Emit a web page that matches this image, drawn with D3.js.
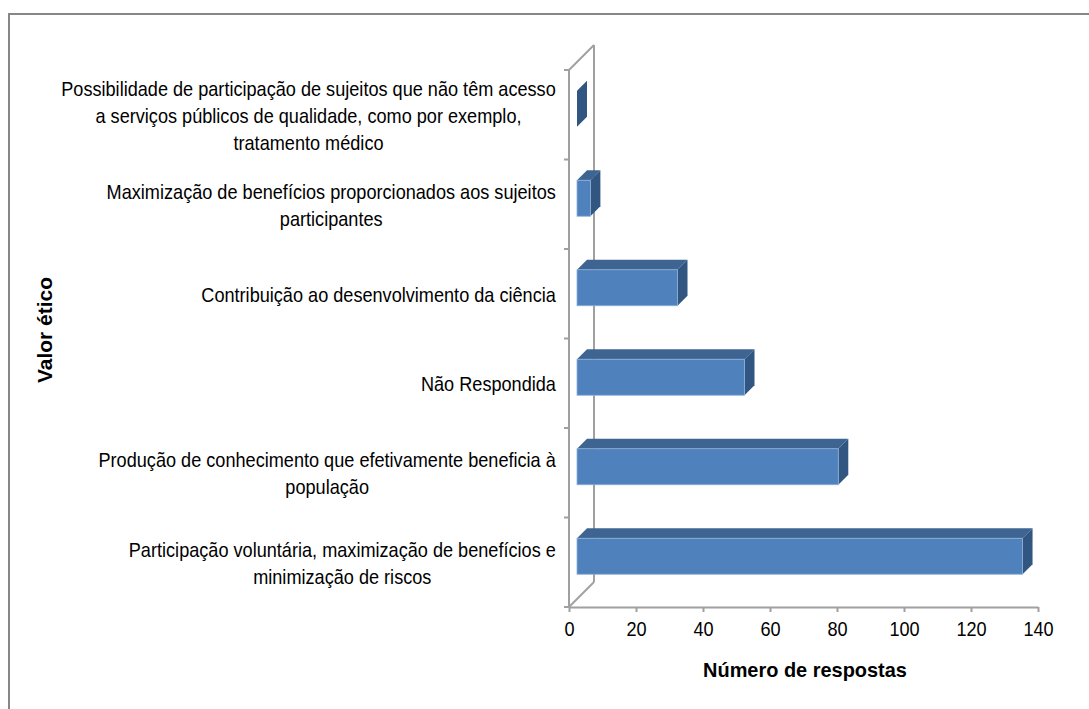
<!DOCTYPE html>
<html>
<head>
<meta charset="utf-8">
<script src="https://cdn.jsdelivr.net/npm/d3@7"></script>
<style>
  body { margin: 0; background: #fff; }
  text { font-family: "Liberation Sans", Arial, sans-serif; fill: #000; }
</style>
</head>
<body>
<div id="chart"></div>
<script>
// categories from bottom to top (Excel order)
var categories = [
  "Participação voluntária, maximização de benefícios e minimização de riscos",
  "Produção de conhecimento que efetivamente beneficia à população",
  "Não Respondida",
  "Contribuição ao desenvolvimento da ciência",
  "Maximização de benefícios proporcionados aos sujeitos participantes",
  "Possibilidade de participação de sujeitos que não têm acesso a serviços públicos de qualidade, como por exemplo, tratamento médico"
];
var values = [133, 78, 50, 30, 4, 0];
// wrapped label lines, same order as categories
var labelLines = [
  ["Participação voluntária, maximização de benefícios e", "minimização de riscos"],
  ["Produção de conhecimento que efetivamente beneficia à", "população"],
  ["Não Respondida"],
  ["Contribuição ao desenvolvimento da ciência"],
  ["Maximização de benefícios proporcionados aos sujeitos", "participantes"],
  ["Possibilidade de participação de sujeitos que não têm acesso", "a serviços públicos de qualidade, como por exemplo,", "tratamento médico"]
];
var xTicks = [0, 20, 40, 60, 80, 100, 120, 140];
var xTitle = "Número de respostas";
var yTitle = "Valor ético";

var width = 1089, height = 709;
var depth = 25, d1 = 8, d2 = 18, barH = 36;
var sx = 0.93; // text looks horizontally squeezed in the picture

var svg = d3.select("#chart").append("svg")
  .attr("width", width)
  .attr("height", height);

// outer frame
svg.append("rect")
  .attr("x", 9).attr("y", 14)
  .attr("width", 1100).attr("height", 720)
  .attr("fill", "none")
  .attr("stroke", "#878787")
  .attr("stroke-width", 2);

var x = d3.scaleLinear().domain([0, 140]).range([569, 1038]);
var y = d3.scaleBand().domain(categories.slice().reverse()).range([70, 607]);
var bw = y.bandwidth();
var top0 = y.range()[0], bot0 = y.range()[1];

var gray = "#a0a0a0";

// side wall (3d)
var wall = svg.append("g").attr("fill", "none").attr("stroke", gray).attr("stroke-width", 2);
wall.append("line").attr("x1", x(0)).attr("y1", top0).attr("x2", x(0) + depth).attr("y2", top0 - depth);
wall.append("line").attr("x1", x(0) + depth).attr("y1", top0 - depth).attr("x2", x(0) + depth).attr("y2", bot0 - depth);
wall.append("line").attr("x1", x(0)).attr("y1", bot0).attr("x2", x(0) + depth).attr("y2", bot0 - depth);

// y axis line + ticks at category boundaries
wall.append("line").attr("x1", x(0)).attr("y1", top0).attr("x2", x(0)).attr("y2", bot0);
var bounds = y.domain().map(function(d) { return y(d); }).concat([bot0]);
wall.selectAll(".ytick").data(bounds).enter().append("line")
  .attr("x1", x(0) - 5).attr("x2", x(0))
  .attr("y1", function(d) { return d; }).attr("y2", function(d) { return d; });

// x axis
var xAxis = svg.append("g")
  .attr("transform", "translate(0," + bot0 + ")")
  .call(d3.axisBottom(x).tickValues(xTicks).tickSize(5).tickSizeOuter(0).tickPadding(10));
xAxis.select(".domain").attr("stroke", gray).attr("stroke-width", 2);
xAxis.selectAll(".tick line").attr("stroke", gray).attr("stroke-width", 2);
xAxis.selectAll(".tick text")
  .style("font-family", "Liberation Sans, Arial, sans-serif")
  .style("font-size", "19.5px")
  .attr("fill", "#000")
  .attr("transform", "scale(" + sx + ",1)");

// bars
var bars = svg.selectAll(".bar").data(categories).enter().append("g").attr("class", "bar");

bars.each(function(c, i) {
  var g = d3.select(this);
  var yc = y(c) + bw / 2 + 2;
  var t = yc - barH / 2, b = yc + barH / 2;
  var xa = x(0), xb = x(values[i]);
  // top face
  g.append("polygon")
    .attr("points", [[xa + d1, t - d1], [xb + d1, t - d1], [xb + d2, t - d2], [xa + d2, t - d2]].join(" "))
    .attr("fill", "#3e6592");
  // side face
  g.append("polygon")
    .attr("points", [[xb + d1, t - d1], [xb + d2, t - d2], [xb + d2, b - d2], [xb + d1, b - d1]].join(" "))
    .attr("fill", "#325682");
  // front face
  if (xb > xa) {
    g.append("rect")
      .attr("x", xa + d1).attr("y", t - d1)
      .attr("width", xb - xa).attr("height", barH)
      .attr("fill", "#4f81bd")
      .attr("stroke", "#8db0d9").attr("stroke-width", 0.8);
  }
});

// category labels, centred block with right edge at 556
labelLines.forEach(function(lines, i) {
  var yc = y(categories[i]) + bw / 2 + 1;
  var g = svg.append("g");
  var texts = lines.map(function(l, k) {
    return g.append("text")
      .attr("text-anchor", "middle")
      .attr("y", yc + (k - (lines.length - 1) / 2) * 27 + 7)
      .style("font-size", "19.5px")
      .text(l);
  });
  var maxW = d3.max(texts, function(t) { return t.node().getComputedTextLength(); }) * sx;
  var cx = 556 - maxW / 2;
  g.attr("transform", "translate(" + cx + ",0) scale(" + sx + ",1)");
});

// axis titles
svg.append("text")
  .attr("text-anchor", "middle")
  .attr("transform", "translate(805,677) scale(0.95,1)")
  .style("font-size", "21px")
  .style("font-weight", "bold")
  .text(xTitle);

svg.append("text")
  .attr("text-anchor", "middle")
  .attr("transform", "translate(52,330) rotate(-90)")
  .style("font-size", "21px")
  .style("font-weight", "bold")
  .text(yTitle);
</script>
</body>
</html>
